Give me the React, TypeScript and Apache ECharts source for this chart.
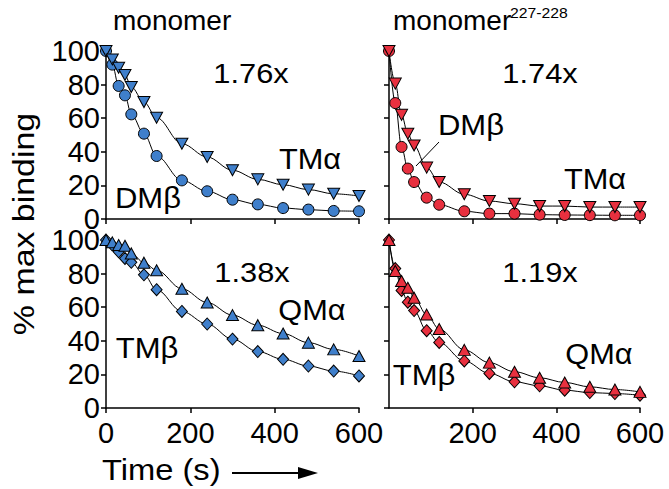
import React, { useEffect, useRef } from "react";
import * as echarts from "echarts";

const times = [0, 15, 30, 45, 60, 90, 120, 180, 240, 300, 360, 420, 480, 540, 600];
// top-left: monomer
const monoDMb = [100, 91.9, 79.2, 73.6, 62.3, 50.8, 37.5, 23, 16.5, 11.5, 8.7, 6.5, 5.6, 4.8, 4.6];
const monoTMa = [100, 95, 90, 85.7, 78.6, 69.6, 60.3, 44.8, 36.9, 29, 23.6, 20.4, 17.5, 15, 13.7];
// top-right: monomer 227-228
const mutDMb = [100, 69, 42.9, 30, 22, 12.7, 8.5, 4.6, 3.2, 3.2, 2.6, 2.4, 2.3, 2.2, 2.2];
const mutTMa = [100, 80.6, 62, 50.8, 43.8, 30.6, 22, 14.7, 10.7, 9.1, 7.7, 7.7, 7.1, 7.1, 7.1];
// bottom-left: monomer
const monoTMb = [100, 97, 93, 89, 86.7, 79.3, 70.4, 57.5, 50, 41, 33.6, 29, 25, 22, 19.1];
const monoQMa = [100, 98.6, 97, 96.6, 92, 86.5, 82, 71, 62.8, 55.3, 49.3, 44.3, 38.9, 34.9, 30.9];
// bottom-right: monomer 227-228
const mutTMb = [100, 83, 70, 63, 58, 46, 39, 28, 20.6, 15.6, 13.2, 10.6, 9.2, 8.6, 7.6];
const mutQMa = [100, 81.6, 75.6, 71.6, 65.6, 55.6, 47, 34.6, 27, 21.6, 18, 15.2, 12.6, 11, 9.6];

const xTicks = [0, 200, 400, 600];
const yTicks = [0, 20, 40, 60, 80, 100];

const BLUE = "#3f7fcb";
const RED = "#e8303f";
const FONT = "'Liberation Sans', Arial, Helvetica, sans-serif";

export default function App() {
  const ref = useRef<HTMLDivElement>(null);
  useEffect(() => {
    if (!ref.current) return;
    const chart = echarts.init(ref.current, undefined, { renderer: "svg" });
    const grids = [
      { left: 106, top: 51, width: 253, height: 168 },
      { left: 389, top: 51, width: 251, height: 168 },
      { left: 106, top: 240, width: 253, height: 168 },
      { left: 389, top: 240, width: 251, height: 168 },
    ];
    const axisLine = { show: true, lineStyle: { color: "#000", width: 1.5 } };
    const axisTick = { show: true, inside: false, length: 5, lineStyle: { color: "#000", width: 1.5 } };
    const xAxis = grids.map((_, i) => ({
      type: "value",
      gridIndex: i,
      min: xTicks[0],
      max: xTicks[xTicks.length - 1],
      interval: xTicks[1] - xTicks[0],
      axisLine,
      axisTick,
      splitLine: { show: false },
      axisLabel: {
        show: i >= 2,
        fontSize: 29,
        lineHeight: 22,
        fontFamily: FONT,
        color: "#000",
        margin: 14,
        showMinLabel: i !== 3,
        formatter: (v: number) => (i === 3 && v === 0 ? "" : String(v)),
      },
    }));
    const yAxis = grids.map((_, i) => ({
      type: "value",
      gridIndex: i,
      min: yTicks[0],
      max: yTicks[yTicks.length - 1],
      interval: yTicks[1] - yTicks[0],
      axisLine,
      axisTick,
      splitLine: { show: false },
      axisLabel: {
        show: i % 2 === 0,
        fontSize: 29,
        lineHeight: 20,
        fontFamily: FONT,
        color: "#000",
        margin: 6,
      },
    }));
    const mk = (
      data: number[],
      idx: number,
      color: string,
      symbol: string,
      size: number | number[],
      rotate = 0
    ) => ({
      type: "line",
      xAxisIndex: idx,
      yAxisIndex: idx,
      data: times.map((t, k) => [t, data[k]]),
      smooth: 0.35,
      smoothMonotone: "x",
      symbol,
      symbolSize: size,
      symbolRotate: rotate,
      showAllSymbol: true,
      lineStyle: { color: "#000", width: 1 },
      itemStyle: { color, borderColor: "#000", borderWidth: 1 },
      emphasis: { disabled: true },
    });
    const series = [
      mk(monoDMb, 0, BLUE, "circle", 11),
      mk(monoTMa, 0, BLUE, "triangle", [12, 11], 180),
      mk(mutDMb, 1, RED, "circle", 11),
      mk(mutTMa, 1, RED, "triangle", [12, 11], 180),
      mk(monoTMb, 2, BLUE, "diamond", [11, 12]),
      mk(monoQMa, 2, BLUE, "triangle", [12, 11]),
      mk(mutTMb, 3, RED, "diamond", [11, 12]),
      mk(mutQMa, 3, RED, "triangle", [12, 11]),
    ];
    const txt = (
      text: string,
      x: number,
      y: number,
      size = 28,
      sx = 1,
      align = "center",
      rotation = 0
    ) => ({
      type: "text",
      x,
      y,
      rotation,
      scaleX: sx,
      silent: true,
      style: {
        text,
        fontSize: size,
        fontFamily: FONT,
        fill: "#000",
        align,
        verticalAlign: "middle",
      },
    });
    const graphic = [
      txt("monomer", 113, 20, 28, 1, "left"),
      txt("monomer", 393, 20, 28, 1, "left"),
      txt("227-228", 510, 13, 15, 1.05, "left"),
      txt("1.76x", 251, 73, 28, 1.1),
      txt("TMα", 310, 159, 29, 1.06),
      txt("DMβ", 148, 198, 29, 1.07),
      txt("1.74x", 540, 73, 28, 1.1),
      txt("DMβ", 471, 125, 29, 1.07),
      txt("TMα", 595, 179, 29, 1.06),
      txt("1.38x", 252, 272, 28, 1.1),
      txt("QMα", 312, 310, 29, 1.06),
      txt("TMβ", 147, 348, 29, 1.07),
      txt("1.19x", 540, 272, 28, 1.1),
      txt("QMα", 599, 354, 29, 1.06),
      txt("TMβ", 424, 375, 29, 1.07),
      txt("% max binding", 24, 224, 30, 1.13, "center", Math.PI / 2),
      txt("Time (s)", 102, 470, 30, 1.09, "left"),
      {
        type: "line",
        silent: true,
        shape: { x1: 416, y1: 166, x2: 439, y2: 142 },
        style: { stroke: "#000", lineWidth: 1 },
      },
      {
        type: "line",
        silent: true,
        shape: { x1: 232, y1: 473, x2: 300, y2: 473 },
        style: { stroke: "#000", lineWidth: 2 },
      },
      {
        type: "polygon",
        silent: true,
        shape: { points: [[298, 467], [318, 473], [298, 479]] },
        style: { fill: "#000" },
      },
    ];
    chart.setOption({
      animation: false,
      backgroundColor: "#fff",
      grid: grids,
      xAxis,
      yAxis,
      series,
      graphic,
    } as any);
    return () => chart.dispose();
  }, []);
  return (
    <div
      ref={ref}
      style={{ position: "fixed", left: 0, top: 0, width: 669, height: 489 }}
    />
  );
}
